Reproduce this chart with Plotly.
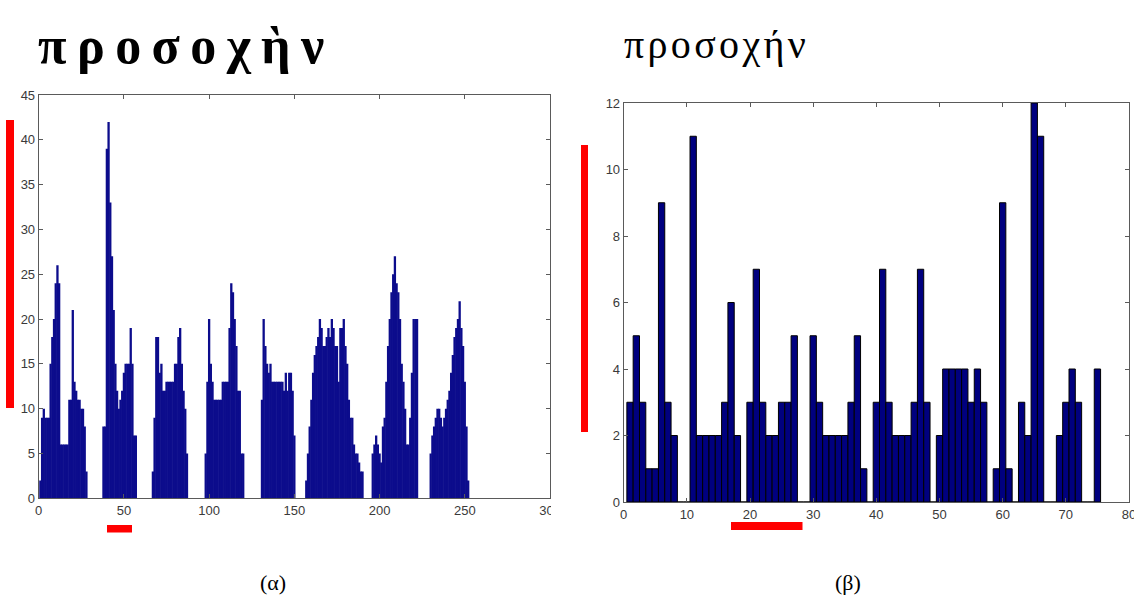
import plotly.graph_objects as go

W, H = 1134, 603

# ---------------- data ----------------
left_title = "π\u2009ρ\u2009ο\u2009σ\u2009ο\u2009χ\u2009ὴ\u2009ν"
right_title = "π\u200aρ\u200aο\u200aσ\u200aο\u200aχ\u200aή\u200aν"
left_label = "(α)"
right_label = "(β)"

left_bins = list(range(1, 254))
left_counts = [
    2, 9, 10, 9, 9, 9, 15, 18, 20, 24,
    26, 24, 6, 6, 6, 6, 6, 11, 11, 21,
    13, 12, 11, 11, 10, 10, 8, 3, 0, 0,
    0, 0, 0, 0, 0, 0, 0, 8, 8, 39,
    42, 33, 27, 21, 15, 12, 10, 11, 12, 14,
    15, 15, 15, 19, 15, 7, 7, 0, 0, 0,
    0, 0, 0, 0, 0, 0, 3, 9, 18, 18,
    14, 15, 12, 12, 13, 13, 13, 13, 13, 15,
    15, 18, 19, 15, 12, 10, 5, 0, 0, 0,
    0, 0, 0, 0, 0, 0, 0, 5, 13, 20,
    15, 13, 11, 11, 11, 11, 11, 13, 13, 13,
    13, 19, 24, 23, 20, 17, 12, 12, 5, 5,
    0, 0, 0, 0, 0, 0, 0, 0, 0, 0,
    11, 20, 17, 15, 14, 15, 13, 13, 13, 13,
    13, 13, 13, 12, 14, 12, 14, 14, 12, 7,
    0, 0, 0, 0, 0, 0, 2, 5, 8, 11,
    14, 16, 17, 18, 20, 19, 17, 17, 18, 19,
    18, 20, 19, 17, 17, 13, 19, 19, 20, 17,
    15, 11, 9, 9, 6, 5, 5, 4, 3, 3,
    0, 0, 0, 0, 0, 5, 6, 7, 6, 5,
    4, 8, 9, 13, 17, 20, 23, 25, 27, 24,
    23, 20, 15, 13, 10, 6, 6, 9, 14, 20,
    20, 20, 0, 0, 0, 0, 0, 0, 0, 5,
    7, 8, 9, 10, 10, 9, 8, 9, 10, 11,
    12, 14, 16, 18, 19, 20, 22, 19, 17, 13,
    8, 2, 0,
]
left_xticks = [0, 50, 100, 150, 200, 250, 300]
left_yticks = [0, 5, 10, 15, 20, 25, 30, 35, 40, 45]

right_bins = list(range(1, 76))
right_counts = [
    3, 5, 3, 1, 1, 9, 3, 2, 0, 0,
    11, 2, 2, 2, 2, 3, 6, 2, 0, 3,
    7, 3, 2, 2, 3, 3, 5, 0, 0, 5,
    3, 2, 2, 2, 2, 3, 5, 1, 0, 3,
    7, 3, 2, 2, 2, 3, 7, 3, 0, 2,
    4, 4, 4, 4, 3, 4, 3, 0, 1, 9,
    1, 0, 3, 2, 12, 11, 0, 0, 2, 3,
    4, 3, 0, 0, 4,
]
right_xticks = [0, 10, 20, 30, 40, 50, 60, 70, 80]
right_yticks = [0, 2, 4, 6, 8, 10, 12]


def px(p):
    return p / W


def py(p):
    return 1 - p / H


fig = go.Figure()
# slightly overlapping bars so the dense histogram renders without seams
fig.add_trace(go.Bar(
    x=left_bins, y=left_counts, xaxis="x", yaxis="y", width=1.35,
    marker=dict(color="#0c0c8c", line=dict(width=0)),
))
fig.add_trace(go.Bar(
    x=right_bins, y=right_counts, xaxis="x2", yaxis="y2", width=1.0,
    marker=dict(color="#00007f", line=dict(color="#000000", width=1)),
))

common = dict(
    showline=True, linecolor="#5a5a5a", linewidth=1, mirror="ticks",
    ticks="inside", ticklen=4, tickcolor="#5a5a5a", tickwidth=1,
    showgrid=False, zeroline=False, automargin=False, fixedrange=True,
    tickfont=dict(family="Liberation Sans", size=13, color="#3a3a3a"),
)

fig.update_layout(
    width=W, height=H,
    margin=dict(l=0, r=0, t=0, b=0),
    paper_bgcolor="white", plot_bgcolor="white",
    showlegend=False, barmode="overlay", template="none",
    xaxis=dict(domain=[px(38.7), px(550)], range=[0, 300], tickvals=left_xticks,
               anchor="y", **common),
    yaxis=dict(domain=[py(498.3), py(95)], range=[0, 45], tickvals=left_yticks,
               anchor="x", **common),
    xaxis2=dict(domain=[px(623.7), px(1129)], range=[0, 80], tickvals=right_xticks,
                anchor="y2", ticklabeloverflow="allow", **common),
    yaxis2=dict(domain=[py(502), py(103)], range=[0, 12], tickvals=right_yticks,
                anchor="x2", **common),
)

annotations = [
    dict(text=left_title, x=px(36), y=py(46), xanchor="left", yanchor="middle",
         font=dict(family="Liberation Serif", size=52, color="black", weight="bold")),
    dict(text=right_title, x=px(622), y=py(44), xanchor="left", yanchor="middle",
         font=dict(family="Liberation Serif", size=40, color="black")),
    dict(text=left_label, x=px(273), y=py(582), xanchor="center", yanchor="middle",
         font=dict(family="Liberation Serif", size=22, color="black")),
    dict(text=right_label, x=px(848), y=py(582), xanchor="center", yanchor="middle",
         font=dict(family="Liberation Serif", size=22, color="black")),
]
for a in annotations:
    a.update(xref="paper", yref="paper", showarrow=False)
fig.update_layout(annotations=annotations)

red_boxes = [
    (6, 120, 14, 408),
    (107, 525, 132, 532.5),
    (581, 145, 588, 432),
    (731, 522, 802.5, 530),
]
shapes = []
# hide the cut-off part of the last left tick label, as in the cropped original
shapes.append(dict(type="rect", xref="paper", yref="paper", layer="above",
                   x0=px(551), x1=px(580), y0=py(525), y1=py(502),
                   fillcolor="white", line=dict(width=0)))
for x0, y0, x1, y1 in red_boxes:
    shapes.append(dict(type="rect", xref="paper", yref="paper", layer="above",
                       x0=px(x0), x1=px(x1), y0=py(y1), y1=py(y0),
                       fillcolor="#ff0000", line=dict(width=0)))
fig.update_layout(shapes=shapes)

fig.write_html("out.html")
